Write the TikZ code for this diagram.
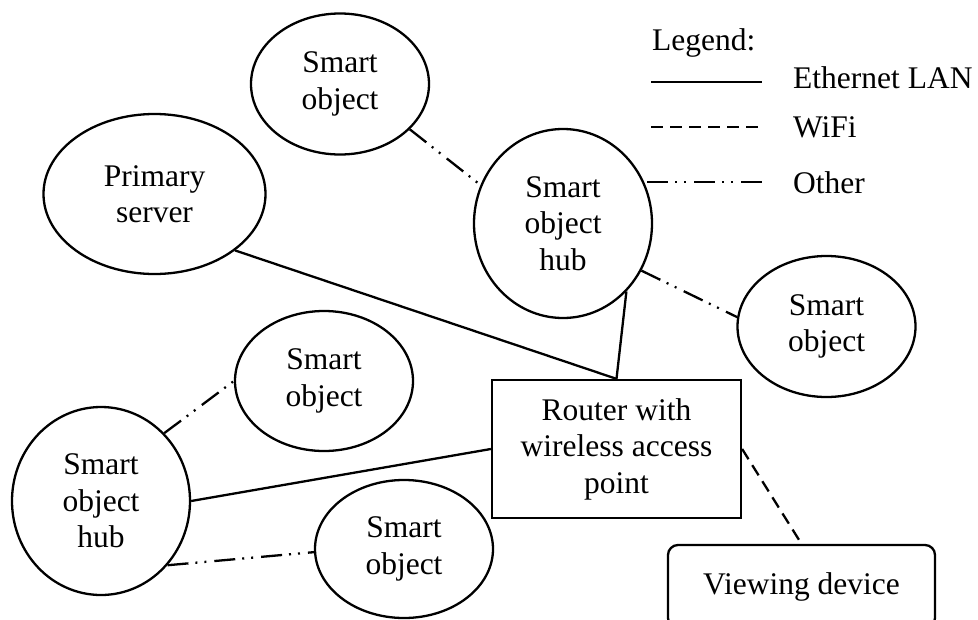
\documentclass[tikz,border=0pt]{standalone}
\usepackage{fontspec}
\setmainfont{Liberation Serif}
\usetikzlibrary{shapes.geometric}
\begin{document}
\begin{tikzpicture}[x=1pt,y=-1pt,
  every node/.style={font=\fontsize{31.5}{36.5}\selectfont, align=center, inner sep=0pt},
  oval/.style={draw, ellipse, line width=2.3pt},
  smartobj/.style={oval, minimum width=178pt, minimum height=141pt},
  hubnode/.style={oval, minimum width=178pt, minimum height=189pt},
  boxnode/.style={draw, rectangle, line width=2.3pt},
  lan/.style={line width=2.3pt},
  wifi/.style={line width=2.3pt, dash pattern=on 12pt off 7pt},
  otherlink/.style={line width=2.3pt, dash pattern=on 21pt off 7pt on 2pt off 7pt on 2pt off 8pt},
  legendtext/.style={anchor=base west}]

\useasboundingbox (0,0) rectangle (978,619);
\clip (0,0) rectangle (978,619);

% devices
\node[smartobj] (so1) at (340,84) {Smart\\object};
\node[oval, minimum width=222pt, minimum height=160pt] (ps) at (154.5,194) {Primary\\server};
\node[hubnode] (hub1) at (563,223.5) {Smart\\object\\hub};
\node[smartobj] (so2) at (826.5,326.5) {Smart\\object};
\node[boxnode, minimum width=249pt, minimum height=138pt] (router) at (616.5,449) {Router with\\wireless access\\point};
\node[smartobj, minimum height=140pt] (so3) at (324,381) {Smart\\object};
\node[hubnode, minimum height=188pt] (hub2) at (101,501) {Smart\\object\\hub};
\node[smartobj, minimum height=138pt] (so4) at (404,549) {Smart\\object};
\node[boxnode, rounded corners=10pt, minimum width=267pt, minimum height=83pt] (view) at (801.5,586.5) {Viewing device};

% links
\draw[lan] (ps.-35.5) -- (router.north);
\draw[lan] (hub1.-47) -- (router.north);
\draw[lan] (hub2.east) -- (router.west);
\draw[wifi] (router.east) -- (view.north);
\draw[otherlink] (so1.-33) -- (hub1.155.7);
\draw[otherlink] (hub1.-31.6) -- (so2.174.6);
\draw[otherlink] (hub2.47) -- (so3.west);
\draw[otherlink] (hub2.-44.5) -- (so4.182);

% legend
\node[legendtext] (lgtitle) at (652,50) {Legend:};
\node[legendtext] (lglan) at (793,88) {Ethernet LAN};
\node[legendtext] (lgwifi) at (793,137) {WiFi};
\node[legendtext] (lgother) at (793,193) {Other};
\coordinate (lanA) at (651,82);
\coordinate (lanB) at (762,82);
\coordinate (wifiA) at (651,127);
\coordinate (wifiB) at (758,127);
\coordinate (othA) at (647,182);
\coordinate (othB) at (768,182);
\draw[lan] (lanA) -- (lanB);
\draw[wifi] (wifiA) -- (wifiB);
\draw[otherlink] (othA) -- (othB);
\end{tikzpicture}
\end{document}
